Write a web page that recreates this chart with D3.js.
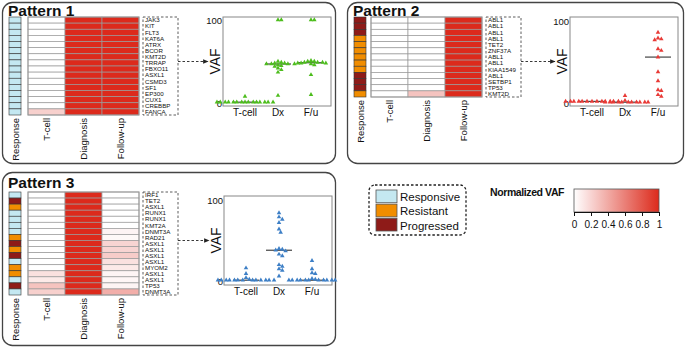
<!DOCTYPE html>
<html><head><meta charset="utf-8">
<script src="https://cdn.jsdelivr.net/npm/d3@7"></script>
<style>
body{margin:0;background:#fff}
svg{display:block}
text{font-family:"Liberation Sans",Arial,sans-serif;fill:#111}
</style>
</head><body>
<svg id="c" width="685" height="347"></svg>
<script>
// ---------------- DATA ----------------
const columns = ["T-cell", "Diagnosis", "Follow-up"];
const scatterCats = ["T-cell", "Dx", "F/u"];
const responseLevels = ["Responsive", "Resistant", "Progressed"];
const colorbarTicks = [0, 0.2, 0.4, 0.6, 0.8, 1];
const vafTicks = [0, 100];

// Pattern 1
const genes1 = ["JAK3","KIT","FLT3","KAT6A","ATRX","BCOR","KMT2D","TRRAP","FBXO11","ASXL1","CSMD3","SF1","EP300","CUX1","CREBBP","FANCA"];
const response1 = ["Responsive","Responsive","Responsive","Responsive","Responsive","Responsive","Responsive","Responsive","Responsive","Responsive","Responsive","Responsive","Responsive","Responsive","Responsive","Responsive"];
const heat1Tcell = [0,0,0,0,0,0,0,0,0,0,0,0,0,0,0,0.22];
const heat1Dx    = [1,1,1,1,1,1,1,1,1,1,1,1,1,1,1,1];
const heat1Fu    = [1,1,1,1,1,1,1,1,1,1,1,1,1,1,1,1];
const vaf1Tcell = [1,1,1,1,1,1,1,1,1,1,1,1,1,1,1,8];
const vaf1Dx    = [100,100,50,49,48,48,47,47,47,46,45,44,42,40,37,9];
const vaf1Fu    = [100,100,51,50,50,49,49,49,48,48,48,47,47,46,34,10];

// Pattern 2
const genes2 = ["ABL1","ABL1","ABL1","ABL1","TET2","ZNF37A","ABL1","ABL1","KIAA1549","ABL1","SETBP1","TP53","KMT2D"];
const response2 = ["Progressed","Progressed","Progressed","Resistant","Resistant","Resistant","Resistant","Resistant","Resistant","Progressed","Progressed","Progressed","Resistant"];
const heat2Tcell = [0,0,0,0,0,0,0,0,0,0,0,0,0];
const heat2Dx    = [0,0,0,0,0,0,0,0,0,0,0,0,0.28];
const heat2Fu    = [1,1,1,1,1,1,1,1,1,1,1,1,1];
const vaf2Tcell = [2,2,2,2,2,2,2,2,2,2,2,2,2];
const vaf2Dx    = [1,1,1,1,1,1,1,1,1,1,1,3,9];
const vaf2Fu    = [86,79,78,77,66,64,56,38,27,16,15,10,8];

// Pattern 3
const genes3 = ["IRF1","TET2","ASXL1","RUNX1","RUNX1","KMT2A","DNMT3A","RAD21","ASXL1","ASXL1","ASXL1","ASXL1","MYOM2","ASXL1","ASXL1","TP53","DNMT3A"];
const response3 = ["Responsive","Progressed","Resistant","Responsive","Responsive","Responsive","Responsive","Resistant","Progressed","Resistant","Progressed","Responsive","Resistant","Resistant","Responsive","Progressed","Responsive"];
const heat3Tcell = [0,0,0,0,0,0,0,0,0,0,0,0,0,0.14,0.1,0.28,0.22];
const heat3Dx    = [1,1,1,1,1,1,1,1,1,1,1,1,1,1,1,1,1];
const heat3Fu    = [0,0,0,0,0,0,0.05,0.03,0.2,0.2,0.24,0.14,0.1,0.05,0.04,0.05,0.38];
const vaf3Tcell = [16,9,4,2,1,1,1,1,1,1,1,1,1,1,1,1,1];
const vaf3Dx    = [84,79,76,72,64,60,40,39,38,37,33,31,20,18,15,13,6];
const vaf3Fu    = [25,15,10,9,3,2,1,1,1,1,1,1,1,1,1,1,1];

// ---------------- STYLE / LAYOUT ----------------
const responseColor = d3.scaleOrdinal().domain(responseLevels).range(["#c4e8f1","#f18d00","#8e1b18"]);
const heatColor = d3.scaleLinear().domain([0,1]).range(["#ffffff","#dc2a1c"]).interpolate(d3.interpolateRgb);

const patterns = [
  {title:"Pattern 1", genes:genes1, resp:response1, heat:[heat1Tcell,heat1Dx,heat1Fu], vaf:[vaf1Tcell,vaf1Dx,vaf1Fu], pt:"#4dbd1d",
   panel:{x:2,y:2,w:333,h:161}, titleY:16, respX:9, heatX:28, heatY:17, heatH:98, plotX:223, plotTop:17, plotBot:106, y0:103, y100:20},
  {title:"Pattern 2", genes:genes2, resp:response2, heat:[heat2Tcell,heat2Dx,heat2Fu], vaf:[vaf2Tcell,vaf2Dx,vaf2Fu], pt:"#e83a36",
   panel:{x:347,y:2,w:336,h:161}, titleY:16, respX:354, heatX:371, heatY:17, heatH:80, plotX:570, plotTop:17, plotBot:106, y0:103, y100:21},
  {title:"Pattern 3", genes:genes3, resp:response3, heat:[heat3Tcell,heat3Dx,heat3Fu], vaf:[vaf3Tcell,vaf3Dx,vaf3Fu], pt:"#3d7fc6",
   panel:{x:2,y:172,w:333,h:173}, titleY:188, respX:9, heatX:28, heatY:192, heatH:103, plotX:224, plotTop:196, plotBot:285, y0:281, y100:200}
];

const svg = d3.select("#c");
const defs = svg.append("defs");
defs.append("marker")
  .attr("id","ah").attr("viewBox","0 0 10 10").attr("refX",9).attr("refY",5)
  .attr("markerWidth",6).attr("markerHeight",6).attr("orient","auto")
  .append("path").attr("d","M0,1L10,5L0,9z").attr("fill","#222");

function swarm(values, y, cx, d) {
  const pts = values.map(v => ({v, y:y(v)}));
  const order = pts.slice().sort((a,b)=>a.y-b.y);
  const placed = [];
  order.forEach(p => {
    for (let k=0;k<400;k++){
      const off = k===0 ? 0 : (k%2 ? 1 : -1)*Math.ceil(k/2)*d*0.5;
      const x = cx + off;
      const hit = placed.some(q => (q.x-x)**2 + (q.y-p.y)**2 < d*d);
      if (!hit){ p.x = x; placed.push(p); break; }
    }
  });
  return pts;
}

patterns.forEach(P => {
  const g = svg.append("g");
  g.append("rect").attr("x",P.panel.x+0.5).attr("y",P.panel.y+0.5).attr("width",P.panel.w).attr("height",P.panel.h)
    .attr("rx",10).attr("fill","none").attr("stroke","#444").attr("stroke-width",1.3);
  g.append("text").attr("x",P.panel.x+6).attr("y",P.titleY).attr("font-size",15.5).attr("font-weight","bold").text(P.title);

  const n = P.genes.length;
  const yb = d3.scaleBand().domain(d3.range(n)).range([P.heatY, P.heatY+P.heatH]);
  const xb = d3.scaleBand().domain(columns).range([P.heatX, P.heatX+111]);

  g.selectAll(".resp").data(P.resp).join("rect")
    .attr("x",P.respX).attr("y",(d,i)=>yb(i)).attr("width",12).attr("height",yb.bandwidth())
    .attr("fill",d=>responseColor(d)).attr("stroke","#333").attr("stroke-width",0.6);

  columns.forEach((c,ci) => {
    g.selectAll(null).data(P.heat[ci]).join("rect")
      .attr("x",xb(c)).attr("y",(d,i)=>yb(i)).attr("width",xb.bandwidth()).attr("height",yb.bandwidth())
      .attr("fill",d=>heatColor(d)).attr("stroke","#9a9a9a").attr("stroke-width",0.7);
  });
  g.append("rect").attr("x",P.heatX).attr("y",P.heatY).attr("width",111).attr("height",P.heatH)
    .attr("fill","none").attr("stroke","#999").attr("stroke-width",1);

  const labY = P.heatY+P.heatH+3;
  g.append("text").attr("transform",`translate(${P.respX+9.5},${labY}) rotate(-90)`)
    .attr("text-anchor","end").attr("font-size",9.5).text("Response");
  columns.forEach(c => {
    g.append("text").attr("transform",`translate(${xb(c)+xb.bandwidth()/2+3.5},${labY}) rotate(-90)`)
      .attr("text-anchor","end").attr("font-size",9.5).text(c);
  });

  const bx = P.heatX+115, bw = 35;
  g.append("rect").attr("x",bx).attr("y",P.heatY).attr("width",bw).attr("height",P.heatH)
    .attr("fill","none").attr("stroke","#333").attr("stroke-width",0.8).attr("stroke-dasharray","2.5,2");
  g.selectAll(null).data(P.genes).join("text")
    .attr("x",bx+2).attr("y",(d,i)=>yb(i)+yb.bandwidth()/2+2.2).attr("font-size",6.2).text(d=>d);

  const midY = (P.plotTop+P.plotBot)/2;
  g.append("line").attr("x1",bx+bw).attr("x2",P.plotX-15).attr("y1",midY).attr("y2",midY)
    .attr("stroke","#222").attr("stroke-width",0.9).attr("stroke-dasharray","2.5,2").attr("marker-end","url(#ah)");

  const pw = 108;
  const y = d3.scaleLinear().domain([0,100]).range([P.y0, P.y100]);
  const x = d3.scalePoint().domain(scatterCats).range([P.plotX+22, P.plotX+88]);
  g.append("rect").attr("x",P.plotX).attr("y",P.plotTop).attr("width",pw).attr("height",P.plotBot-P.plotTop)
    .attr("fill","none").attr("stroke","#888").attr("stroke-width",1);
  g.selectAll(null).data(vafTicks).join("text")
    .attr("x",P.plotX-1).attr("y",d=>y(d)+3.5).attr("text-anchor","end").attr("font-size",9.5).text(d=>d);
  g.append("text").attr("transform",`translate(${P.plotX-3},${midY}) rotate(-90)`)
    .attr("text-anchor","middle").attr("font-size",14).text("VAF");
  g.selectAll(null).data(scatterCats).join("text")
    .attr("x",d=>x(d)).attr("y",P.plotBot+10).attr("text-anchor","middle").attr("font-size",10).text(d=>d);

  const sym = d3.symbol(d3.symbolTriangle).size(9);
  scatterCats.forEach((c,ci) => {
    const vals = P.vaf[ci];
    const med = d3.median(vals);
    g.append("line").attr("x1",x(c)-13).attr("x2",x(c)+13).attr("y1",y(med)).attr("y2",y(med))
      .attr("stroke","#333").attr("stroke-width",1.1);
    const pts = swarm(vals, y, x(c), 3.3);
    g.selectAll(null).data(pts).join("path")
      .attr("d",sym).attr("transform",d=>`translate(${d.x},${d.y})`).attr("fill",P.pt);
  });
});

// ---------------- LEGEND ----------------
const lg = svg.append("g");
lg.append("rect").attr("x",369).attr("y",185).attr("width",97).attr("height",50).attr("rx",6)
  .attr("fill","none").attr("stroke","#222").attr("stroke-width",1.3).attr("stroke-dasharray","2.5,2");
const ly = d3.scaleBand().domain(responseLevels).range([190,231]).paddingInner(0.1);
lg.selectAll(null).data(responseLevels).join("rect")
  .attr("x",376).attr("y",d=>ly(d)).attr("width",21).attr("height",ly.bandwidth())
  .attr("fill",d=>responseColor(d)).attr("stroke","#555").attr("stroke-width",0.8);
lg.selectAll(null).data(responseLevels).join("text")
  .attr("x",400).attr("y",d=>ly(d)+ly.bandwidth()-1.5).attr("font-size",11.5).text(d=>d);

// color bar
const cb = svg.append("g");
const grad = defs.append("linearGradient").attr("id","gr");
grad.selectAll("stop").data(colorbarTicks).join("stop")
  .attr("offset",d=>d*100+"%").attr("stop-color",d=>heatColor(d));
cb.append("text").attr("x",490).attr("y",196).attr("font-size",10.5).attr("font-weight","bold")
  .attr("letter-spacing",-0.4).text("Normalized VAF");
const cx = d3.scaleLinear().domain([0,1]).range([574,659]);
cb.append("rect").attr("x",574).attr("y",189).attr("width",85).attr("height",23)
  .attr("fill","url(#gr)").attr("stroke","#555").attr("stroke-width",0.8);
const ax = cb.append("g").attr("transform","translate(0,212)")
  .call(d3.axisBottom(cx).tickValues(colorbarTicks).tickSize(4).tickFormat(d=>d3.format("")(d)));
ax.select(".domain").attr("stroke","#111");
ax.selectAll("line").attr("stroke","#111");
ax.selectAll("text").attr("font-size",10).attr("dy","0.85em").style("font-family","'Liberation Sans',sans-serif").attr("fill","#111");
</script>
</body></html>
